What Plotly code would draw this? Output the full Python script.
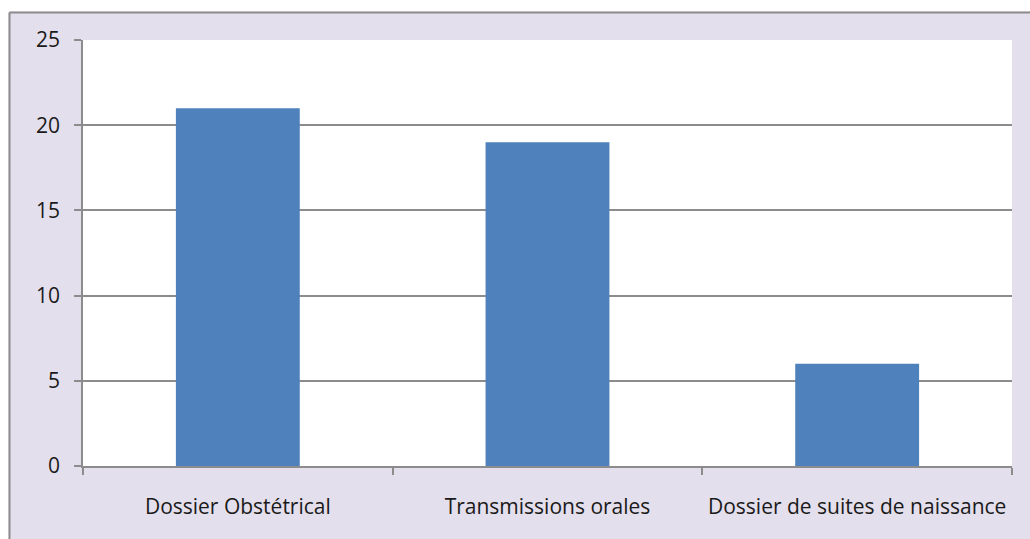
import plotly.graph_objects as go

categories = ["Dossier Obstétrical", "Transmissions orales", "Dossier de suites de naissance"]
values = [21, 19, 6]
y_ticks = [0, 5, 10, 15, 20, 25]

W, H = 1030, 539
L, R, T, B = 83, 18, 40, 73
pw, ph = W - L - R, H - T - B

def px_to_paper_x(px):
    return (px - L) / pw

def px_to_paper_y(py):
    return (H - B - py) / ph

border = "#8C8C8C"
fig = go.Figure(go.Bar(
    x=categories, y=values,
    marker=dict(color="#4F81BD", line=dict(width=0)),
))

fig.update_layout(
    width=W, height=H,
    margin=dict(l=L, r=R, t=T, b=B, pad=0),
    paper_bgcolor="#E4DFEC",
    plot_bgcolor="#FFFFFF",
    bargap=0.6,
    showlegend=False,
    font=dict(family="Open Sans, sans-serif", size=21, color="#1a1a1a"),
    shapes=[
        # white strips outside the chart frame
        dict(type="rect", xref="paper", yref="paper",
             x0=px_to_paper_x(-5), x1=px_to_paper_x(1100),
             y0=px_to_paper_y(11.5), y1=px_to_paper_y(-5),
             fillcolor="#FFFFFF", line=dict(width=0), layer="below"),
        dict(type="rect", xref="paper", yref="paper",
             x0=px_to_paper_x(-5), x1=px_to_paper_x(8.5),
             y0=px_to_paper_y(700), y1=px_to_paper_y(-5),
             fillcolor="#FFFFFF", line=dict(width=0), layer="below"),
        # frame border
        dict(type="line", xref="paper", yref="paper",
             x0=px_to_paper_x(9.5), x1=px_to_paper_x(1100),
             y0=px_to_paper_y(12.5), y1=px_to_paper_y(12.5),
             line=dict(color=border, width=2), layer="below"),
        dict(type="line", xref="paper", yref="paper",
             x0=px_to_paper_x(9.5), x1=px_to_paper_x(9.5),
             y0=px_to_paper_y(700), y1=px_to_paper_y(12.5),
             line=dict(color=border, width=2), layer="below"),
    ],
)

fig.update_xaxes(
    type="category",
    showline=True, linecolor=border, linewidth=1.5,
    ticks="outside", ticklen=7, tickcolor=border, tickwidth=1.5,
    tickson="boundaries",
    showgrid=False,
    ticklabelstandoff=21,
    tickfont=dict(size=21),
)
fig.update_yaxes(
    range=[0, 25], tickvals=y_ticks,
    showline=True, linecolor=border, linewidth=1.5,
    ticks="outside", ticklen=7, tickcolor=border, tickwidth=1.5,
    showgrid=True, gridcolor=border, gridwidth=1.5,
    zeroline=False,
    ticklabelstandoff=10,
    tickfont=dict(size=21),
)

fig.write_html("out.html", config={"displayModeBar": False},
               post_script="document.body.style.margin='0';")
